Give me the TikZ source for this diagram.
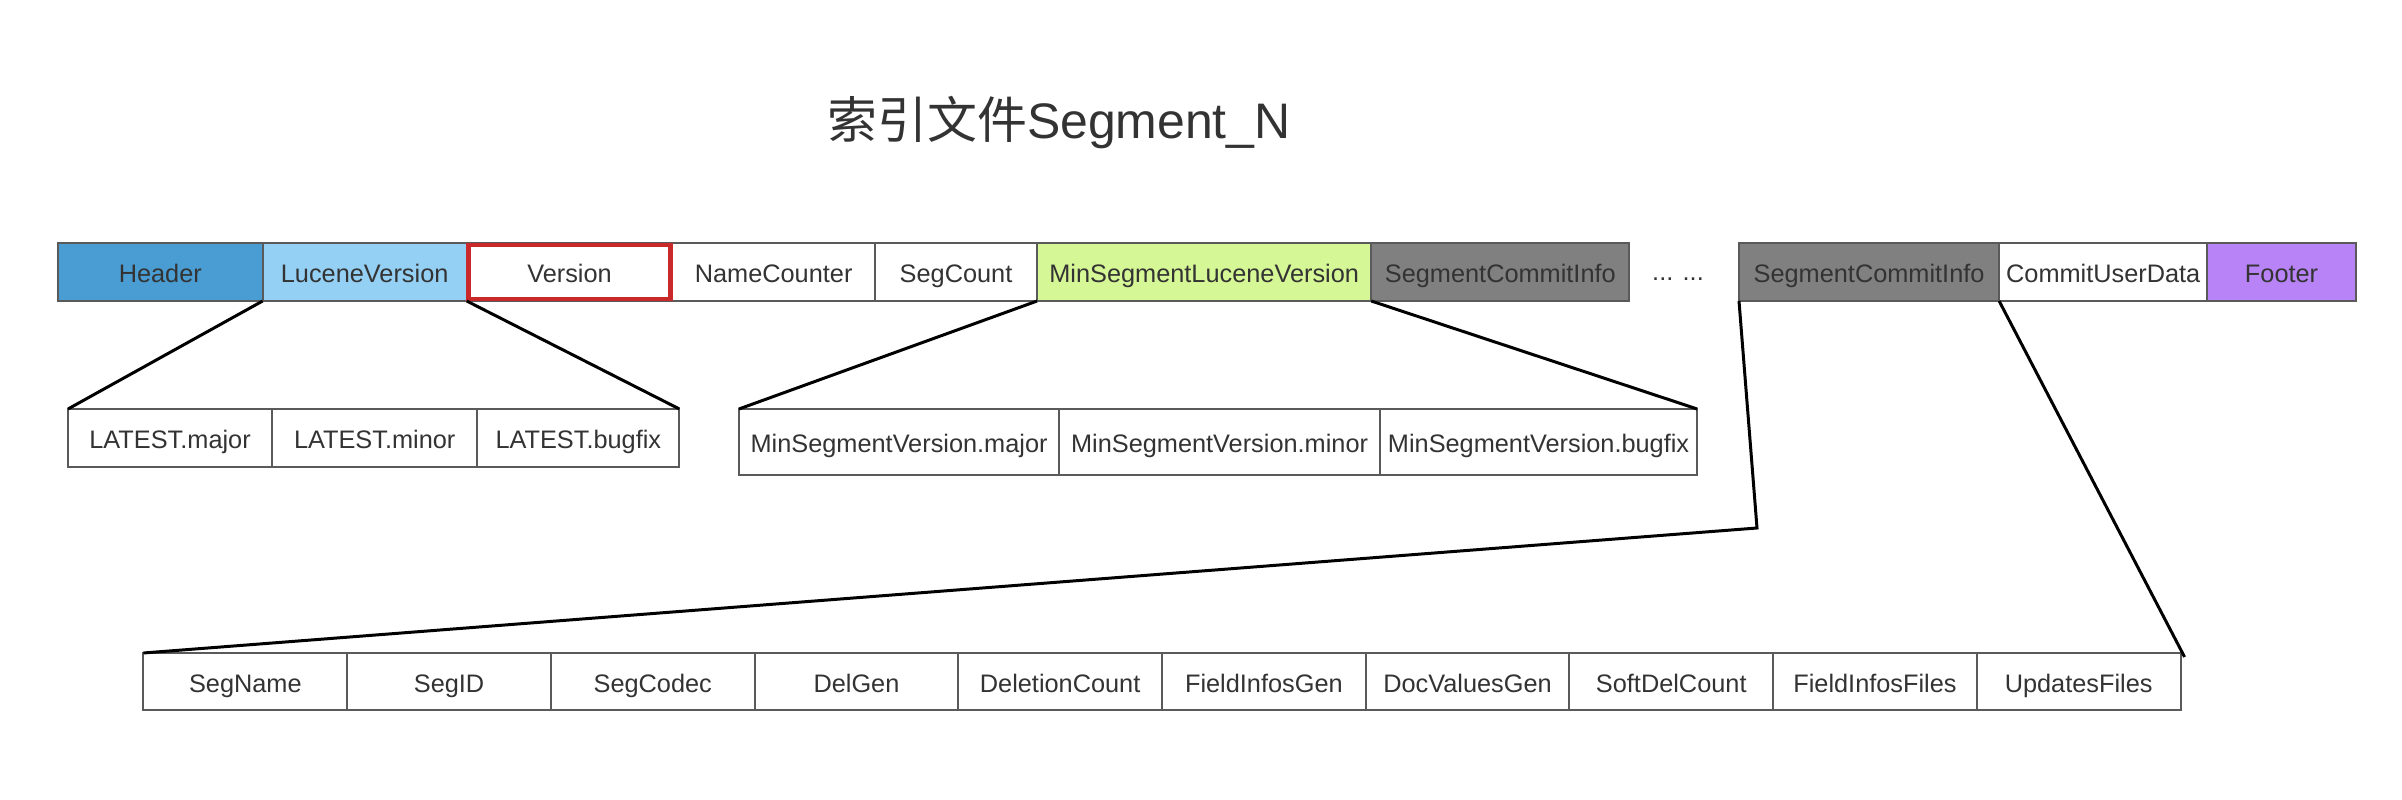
\documentclass[tikz,border=0pt]{standalone}
\usepackage{fontspec}
\setmainfont{Liberation Sans}
\newfontfamily\cjk{Noto Sans CJK SC}
\usetikzlibrary{positioning}

\definecolor{headerBlue}{HTML}{4A9DD3}
\definecolor{luceneBlue}{HTML}{94D0F4}
\definecolor{minGreen}{HTML}{D6F796}
\definecolor{commitGray}{HTML}{808080}
\definecolor{footerPurple}{HTML}{B883F7}
\definecolor{versionRed}{HTML}{C9292B}
\definecolor{cellBorder}{HTML}{5A5A5A}
\definecolor{textGray}{HTML}{333333}

\tikzset{
    cell/.style={rectangle, draw=cellBorder, line width=0.57pt, fill=white, text=textGray,
        minimum height=0.58cm, inner sep=0pt, outer sep=0pt, text height=1.6ex, text depth=0.45ex,
        font=\fontsize{7.2}{8.6}\selectfont},
    link/.style={line width=0.85pt, black},
}

\begin{document}
\begin{tikzpicture}[x=0.01cm, y=-0.01cm]
    \useasboundingbox (0,0) rectangle (2402,800);

    % title
    \node[anchor=base, text=textGray, font=\fontsize{14.2}{17}\selectfont] (title) at (1059,138) {{\cjk 索引文件}Segment\_N};

    % top row
    \node[cell, fill=headerBlue, minimum width=2.045cm, anchor=west] (header) at (58,272) {Header};
    \node[cell, fill=luceneBlue, minimum width=2.04cm, right=0pt of header] (luceneVersion) {LuceneVersion};
    \node[cell, minimum width=2.055cm, right=0pt of luceneVersion] (version) {Version};
    \node[cell, minimum width=2.025cm, right=0pt of version] (nameCounter) {NameCounter};
    \node[cell, minimum width=1.62cm, right=0pt of nameCounter] (segCount) {SegCount};
    \node[cell, fill=minGreen, minimum width=3.34cm, right=0pt of segCount] (minSegLucene) {MinSegmentLuceneVersion};
    \node[cell, fill=commitGray, minimum width=2.58cm, right=0pt of minSegLucene] (commitInfoA) {SegmentCommitInfo};
    \node[anchor=base, inner sep=0pt, text=textGray, font=\fontsize{7.2}{8.6}\selectfont] (dots) at (1678,280) {... ...};
    \node[cell, fill=commitGray, minimum width=2.6cm, anchor=west] (commitInfoB) at (1739,272) {SegmentCommitInfo};
    \node[cell, minimum width=2.08cm, right=0pt of commitInfoB] (commitUserData) {CommitUserData};
    \node[cell, fill=footerPurple, minimum width=1.485cm, right=0pt of commitUserData] (footer) {Footer};
    \draw[versionRed, line width=1.3pt] ([shift={(2,-2)}]version.south west) rectangle ([shift={(-2,2)}]version.north east);

    % LuceneVersion fields
    \node[cell, minimum width=2.04cm, anchor=west] (latestMajor) at (68,438) {LATEST.major};
    \node[cell, minimum width=2.05cm, right=0pt of latestMajor] (latestMinor) {LATEST.minor};
    \node[cell, minimum width=2.02cm, right=0pt of latestMinor] (latestBugfix) {LATEST.bugfix};

    % MinSegmentLuceneVersion fields
    \node[cell, minimum width=3.2cm, minimum height=0.66cm, anchor=west] (minMajor) at (739,442) {MinSegmentVersion.major};
    \node[cell, minimum width=3.206cm, minimum height=0.66cm, right=0pt of minMajor] (minMinor) {MinSegmentVersion.minor};
    \node[cell, minimum width=3.17cm, minimum height=0.66cm, right=0pt of minMinor] (minBugfix) {MinSegmentVersion.bugfix};

    % SegmentCommitInfo fields
    \foreach \label [count=\i] in {SegName, SegID, SegCodec, DelGen, DeletionCount, FieldInfosGen, DocValuesGen, SoftDelCount, FieldInfosFiles, UpdatesFiles}
        \node[cell, minimum width=2.037cm, minimum height=0.57cm] (field\i) at ({245.35+203.7*(\i-1)},681.5) {\label};

    % expansion lines
    \draw[link] (luceneVersion.south west) -- (latestMajor.north west);
    \draw[link] (luceneVersion.south east) -- (latestBugfix.north east);
    \draw[link] (minSegLucene.south west) -- (minMajor.north west);
    \draw[link] (minSegLucene.south east) -- (minBugfix.north east);
    \coordinate (bend) at (1757,528);
    \draw[link] (commitInfoB.south west) -- (bend) -- (field1.north west);
    \draw[link] (commitInfoB.south east) -- ([shift={(4,4)}]field10.north east);
\end{tikzpicture}
\end{document}
